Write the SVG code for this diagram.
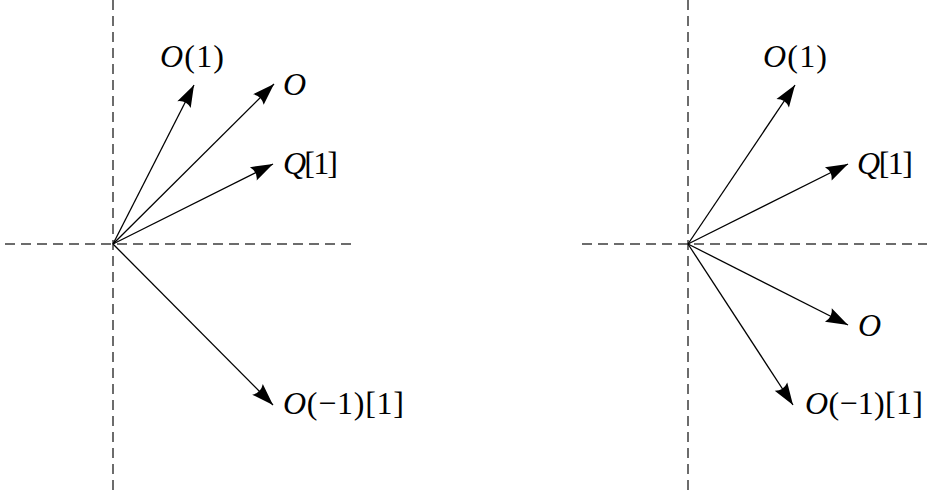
<svg xmlns="http://www.w3.org/2000/svg" width="927" height="491" viewBox="0 0 927 491">
<defs>
<style>
.axis{stroke:#3c3c3c;stroke-width:1.5;stroke-dasharray:10 6;fill:none}
.vec{stroke:#000;stroke-width:1.3;fill:none;marker-end:url(#ah)}
text{font-family:"Liberation Serif","Times New Roman",serif;font-size:32px;fill:#000}
.c{font-style:italic}
</style>
<marker id="ah" markerUnits="userSpaceOnUse" markerWidth="26" markerHeight="18" viewBox="-23 -9 26 18" refX="0" refY="0" orient="auto">
<path d="M0,0 L-22,-7.5 Q-17,0 -22,7.5 Z" fill="#000"/>
</marker>
</defs>
<g id="axes">
<line class="axis" x1="113" y1="0" x2="113" y2="491"/>
<line class="axis" x1="5" y1="244" x2="353" y2="244"/>
<line class="axis" x1="688" y1="0" x2="688" y2="491"/>
<line class="axis" x1="582" y1="244" x2="927" y2="244"/>
</g>
<g id="connectors">
<line class="vec" x1="113" y1="244" x2="194" y2="85"/>
<line class="vec" x1="113" y1="244" x2="274" y2="84"/>
<line class="vec" x1="113" y1="244" x2="273" y2="164"/>
<line class="vec" x1="113" y1="244" x2="273" y2="405"/>
<line class="vec" x1="688" y1="244" x2="795" y2="85"/>
<line class="vec" x1="688" y1="244" x2="848" y2="164"/>
<line class="vec" x1="688" y1="244" x2="848" y2="325"/>
<line class="vec" x1="688" y1="244" x2="793" y2="405"/>
</g>
<g id="left-O1"><text x="160" y="67" textLength="64"><tspan class="c">O</tspan>(1)</text></g>
<g id="left-O"><text x="283" y="95" class="c">O</text></g>
<g id="left-Q1"><text x="283" y="174" textLength="55"><tspan class="c">Q</tspan>[1]</text></g>
<g id="left-Om11"><text x="283" y="414" textLength="121"><tspan class="c">O</tspan>(−1)[1]</text></g>
<g id="right-O1"><text x="763" y="67" textLength="64"><tspan class="c">O</tspan>(1)</text></g>
<g id="right-Q1"><text x="857" y="174" textLength="56"><tspan class="c">Q</tspan>[1]</text></g>
<g id="right-O"><text x="858" y="336" class="c">O</text></g>
<g id="right-Om11"><text x="805" y="414" textLength="118"><tspan class="c">O</tspan>(−1)[1]</text></g>
</svg>
